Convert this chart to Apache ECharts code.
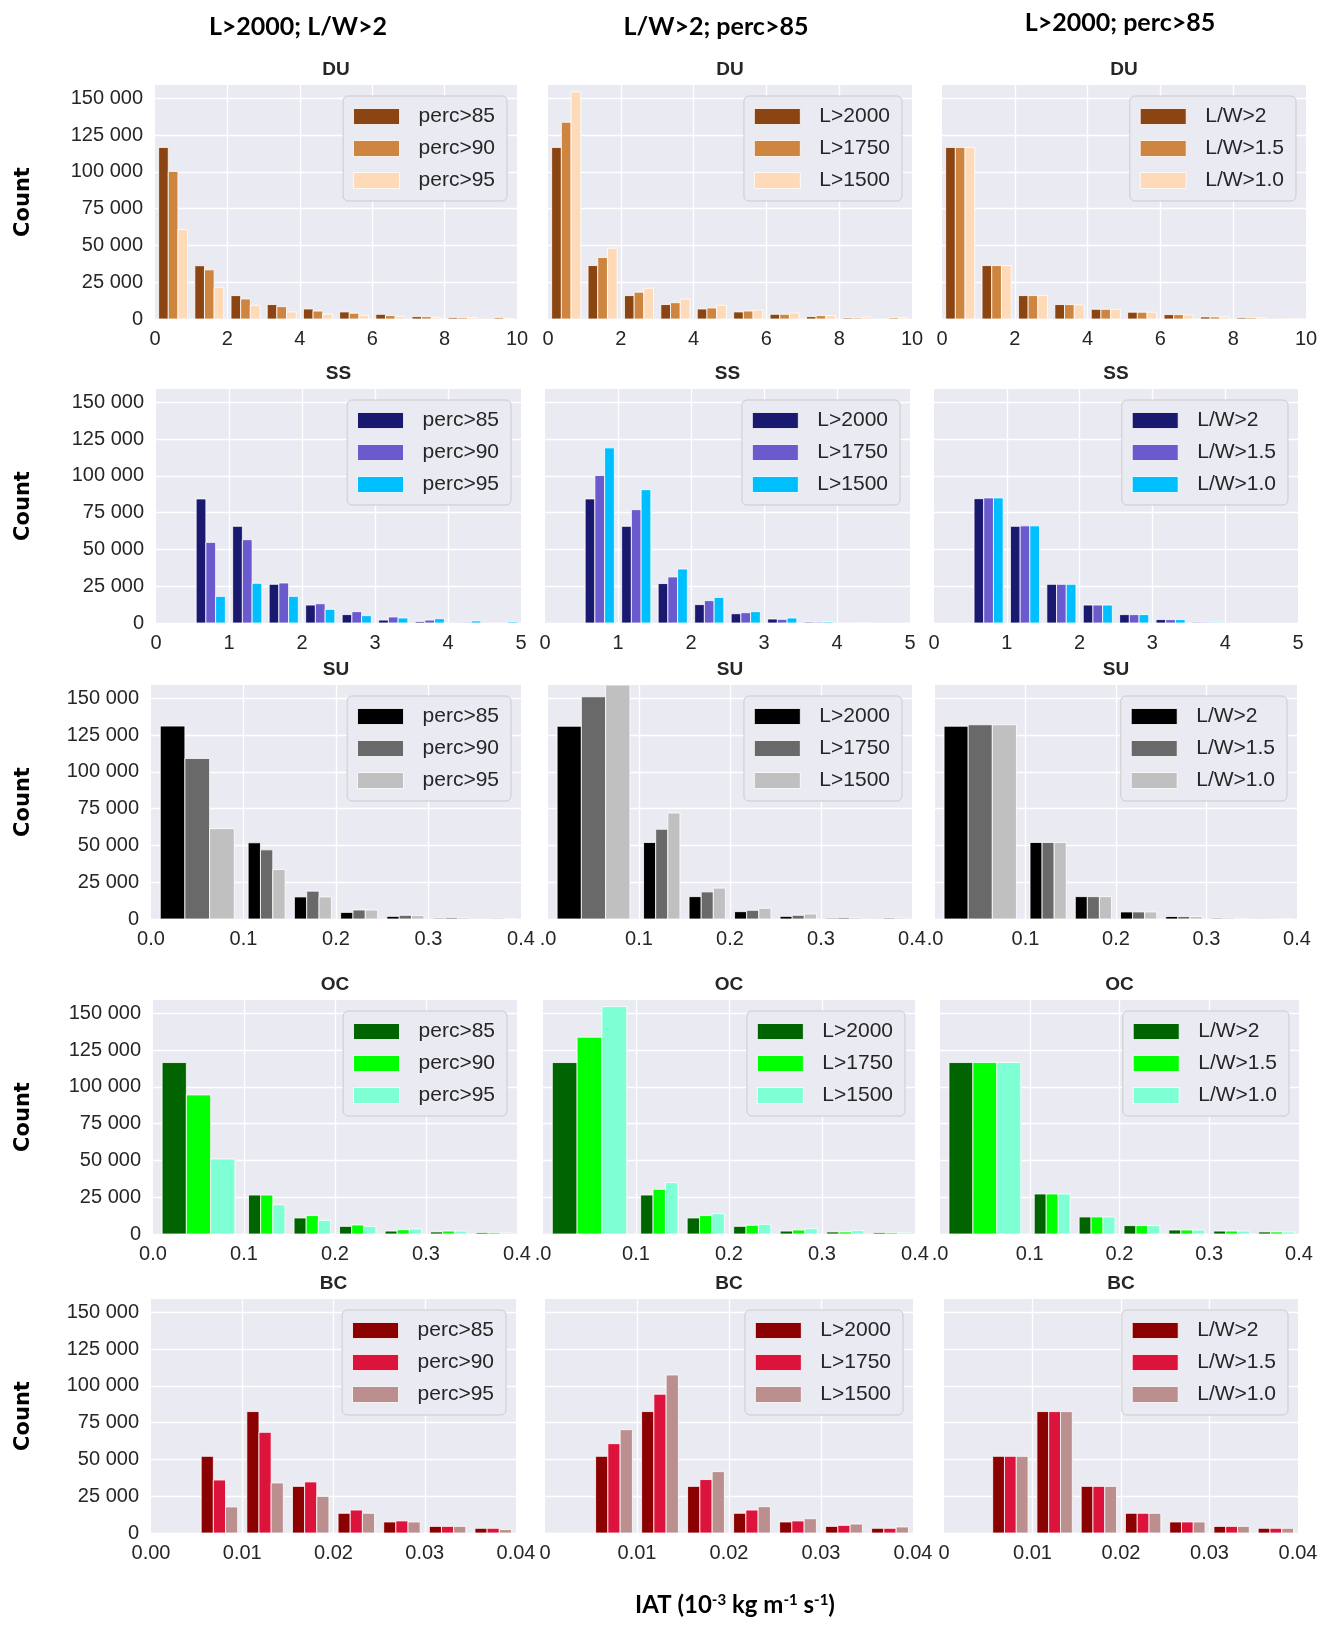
<!DOCTYPE html>
<html><head><meta charset="utf-8">
<script src="https://cdn.jsdelivr.net/npm/echarts@6/dist/echarts.min.js"></script>
<style>html,body{margin:0;padding:0;background:#fff}#chart{width:1334px;height:1628px}</style>
</head><body><div id="chart"></div><script>
// ---------- data ----------
const rowNames = ['DU', 'SS', 'SU', 'OC', 'BC'];
const colHeaders = ['L>2000; L/W>2', 'L/W>2; perc>85', 'L>2000; perc>85'];
const col1Labels = ['perc>85', 'perc>90', 'perc>95'];
const col2Labels = ['L>2000', 'L>1750', 'L>1500'];
const col3Labels = ['L/W>2', 'L/W>1.5', 'L/W>1.0'];

// bin edges
const DU_bins = [0, 1, 2, 3, 4, 5, 6, 7, 8, 9, 10];
const SS_bins = [0, 0.5, 1, 1.5, 2, 2.5, 3, 3.5, 4, 4.5, 5];
const SU_bins = [0, 0.1, 0.15, 0.2, 0.25, 0.3, 0.35, 0.4];
const OC_bins = [0, 0.1, 0.15, 0.2, 0.25, 0.3, 0.35, 0.4];
const BC_bins = [0, 0.005, 0.01, 0.015, 0.02, 0.025, 0.03, 0.035, 0.04];

// DU counts
const DU_perc85 = [116600, 36200, 15900, 9800, 6800, 4800, 3200, 1600, 900, 400];
const DU_perc90 = [100300, 33400, 13600, 8400, 5400, 3900, 2300, 1600, 900, 1100];
const DU_perc95 = [60800, 21600, 9300, 4800, 3200, 2500, 1800, 1100, 1000, 500];
const DU_L2000 = [116600, 36300, 15900, 9800, 6800, 4800, 3200, 1600, 700, 300];
const DU_L1750 = [133700, 41800, 18200, 11100, 7500, 5400, 3200, 2300, 700, 900];
const DU_L1500 = [154300, 48100, 20900, 13600, 9300, 6100, 4100, 2300, 1400, 900];
const DU_LW2 = [116600, 36300, 15900, 9800, 6600, 4600, 3000, 1400, 800, 200];
const DU_LW15 = [116600, 36300, 15900, 9800, 6600, 4600, 3000, 1400, 800, 200];
const DU_LW10 = [116600, 36300, 15900, 9600, 6600, 4600, 2800, 1400, 800, 200];

// SS counts
const SS_perc85 = [0, 84300, 65700, 26300, 12200, 5700, 2000, 900, 200, 100];
const SS_perc90 = [0, 54800, 56600, 27200, 13100, 7700, 4100, 2000, 500, 200];
const SS_perc95 = [0, 18100, 27000, 18100, 9300, 5000, 3400, 2900, 1400, 800];
const SS_L2000 = [0, 84300, 65700, 26800, 12500, 6300, 2700, 600, 100, 0];
const SS_L1750 = [0, 100200, 77000, 31300, 15200, 7000, 2500, 600, 100, 0];
const SS_L1500 = [0, 119000, 90600, 36700, 17400, 7700, 3400, 700, 100, 0];
const SS_LW2 = [0, 84500, 65700, 26300, 12200, 5700, 2300, 500, 0, 0];
const SS_LW15 = [0, 85000, 66000, 26300, 12200, 5700, 2300, 500, 0, 0];
const SS_LW10 = [0, 85000, 66000, 26300, 12200, 5700, 2300, 500, 0, 0];

// SU counts
const SU_perc85 = [131100, 51800, 15000, 4500, 1800, 500, 100];
const SU_perc90 = [109100, 47000, 18900, 6100, 2500, 900, 500];
const SU_perc95 = [61400, 33600, 15000, 6100, 2300, 900, 200];
const SU_L2000 = [131000, 52000, 15200, 5000, 1800, 500, 200];
const SU_L1750 = [151000, 61000, 18400, 5900, 2500, 900, 700];
const SU_L1500 = [163000, 72000, 21000, 7300, 3400, 900, 700];
const SU_LW2 = [131000, 52000, 15200, 4800, 1700, 500, 200];
const SU_LW15 = [132000, 52000, 15200, 4800, 1700, 500, 200];
const SU_LW10 = [132000, 52000, 15200, 4800, 1700, 500, 200];

// OC counts
const OC_perc85 = [116500, 26500, 10900, 5200, 2000, 1400, 900];
const OC_perc90 = [94500, 26500, 12500, 6100, 2900, 2000, 900];
const OC_perc95 = [51000, 19900, 9300, 5200, 3400, 2000, 700];
const OC_L2000 = [116500, 26500, 10900, 5200, 2000, 1400, 900];
const OC_L1750 = [133700, 30400, 12500, 5900, 2700, 1400, 900];
const OC_L1500 = [154500, 34900, 13800, 6600, 3600, 2300, 900];
const OC_LW2 = [116500, 27200, 11600, 5700, 2700, 2000, 1400];
const OC_LW15 = [116500, 27200, 11600, 5700, 2700, 2000, 1400];
const OC_LW10 = [116500, 27200, 11600, 5700, 2700, 2000, 1400];

// BC counts
const BC_perc85 = [0, 52100, 82500, 31700, 13400, 7500, 4500, 3200];
const BC_perc90 = [0, 36000, 68400, 34700, 15600, 8200, 4500, 3200];
const BC_perc95 = [0, 17700, 34000, 24900, 13400, 7500, 4500, 2300];
const BC_L2000 = [0, 52100, 82500, 31700, 13400, 7500, 4500, 3200];
const BC_L1750 = [0, 60700, 94300, 36300, 15600, 8200, 5200, 3200];
const BC_L1500 = [0, 70200, 107400, 41700, 17900, 9700, 6100, 4100];
const BC_LW2 = [0, 52100, 82500, 31700, 13400, 7500, 4500, 3200];
const BC_LW15 = [0, 52100, 82500, 31700, 13400, 7500, 4500, 3200];
const BC_LW10 = [0, 52100, 82500, 31700, 13400, 7500, 4500, 3200];

const yTicks = [0, 25000, 50000, 75000, 100000, 125000, 150000];

// ---------- styling / layout ----------
const palettes = [
  ['#8B4513', '#CD853F', '#FFDAB9'],
  ['#191970', '#6A5ACD', '#00BFFF'],
  ['#000000', '#696969', '#C0C0C0'],
  ['#006400', '#00FF00', '#7FFFD4'],
  ['#8B0000', '#DC143C', '#BC8F8F']
];
const rowBins = [DU_bins, SS_bins, SU_bins, OC_bins, BC_bins];
const rowData = [
  [[DU_perc85, DU_perc90, DU_perc95], [DU_L2000, DU_L1750, DU_L1500], [DU_LW2, DU_LW15, DU_LW10]],
  [[SS_perc85, SS_perc90, SS_perc95], [SS_L2000, SS_L1750, SS_L1500], [SS_LW2, SS_LW15, SS_LW10]],
  [[SU_perc85, SU_perc90, SU_perc95], [SU_L2000, SU_L1750, SU_L1500], [SU_LW2, SU_LW15, SU_LW10]],
  [[OC_perc85, OC_perc90, OC_perc95], [OC_L2000, OC_L1750, OC_L1500], [OC_LW2, OC_LW15, OC_LW10]],
  [[BC_perc85, BC_perc90, BC_perc95], [BC_L2000, BC_L1750, BC_L1500], [BC_LW2, BC_LW15, BC_LW10]]
];
const colLabels = [col1Labels, col2Labels, col3Labels];
const xMax = [10, 5, 0.4, 0.4, 0.04];
const xInt = [2, 1, 0.1, 0.1, 0.01];

const W = 1334;
const panelLeft = [[155, 548, 942], [156, 545, 934], [151, 548, 935], [153, 543, 940], [151, 545, 944]];
const panelRight = [[517, 912, 1306], [521, 910, 1298], [521, 912, 1297], [517, 915, 1299], [516, 913, 1298]];
const rowTop = [85, 389, 685, 1000, 1299];
const plotH = 234;
const YMAX = 159000;
const FONT = "'Liberation Sans', Arial, sans-serif";
const TXT = '#262626';

function xFormatter(r, c) {
  return function (v) {
    if (r === 0 || r === 1) return String(Math.round(v));
    if (r === 2 || r === 3) {
      if (c > 0 && Math.abs(v) < 1e-9) return '.0';
      return v.toFixed(1);
    }
    if (c > 0 && Math.abs(v) < 1e-9) return '0';
    return v.toFixed(2);
  };
}
function yFormatter(v) {
  if (yTicks.indexOf(v) < 0) return '';
  if (v === 0) return '0';
  const s = String(v);
  return s.slice(0, s.length - 3) + ' ' + s.slice(-3);
}
function makeRender(slot, color) {
  return function (params, api) {
    const x0 = api.value(0), x1 = api.value(1), v = api.value(2);
    if (!(v > 0)) return null;
    const w = (x1 - x0) * 0.8 / 3;
    const left = x0 + (x1 - x0) * 0.1 + slot * w;
    const p1 = api.coord([left, v]);
    const p2 = api.coord([left + w, 0]);
    const cs = params.coordSys;
    const rect = echarts.graphic.clipRectByRect(
      { x: p1[0], y: p1[1], width: p2[0] - p1[0], height: p2[1] - p1[1] },
      { x: cs.x, y: cs.y, width: cs.width, height: cs.height });
    if (!rect) return null;
    return { type: 'rect', shape: rect, style: { fill: color, stroke: '#ffffff', lineWidth: 0.8 } };
  };
}

const grids = [], xAxes = [], yAxes = [], series = [], legends = [], graphics = [];

colHeaders.forEach(function (h, c) {
  const cx = [298, 716, 1120][c];
  const cy = [27, 27, 23][c];
  graphics.push({ type: 'text', x: cx, y: cy, style: { text: h, font: "bold 25px Lato, 'Liberation Sans', sans-serif", fill: '#000', textAlign: 'center', textVerticalAlign: 'middle' } });
});

for (let r = 0; r < 5; r++) {
  graphics.push({ type: 'text', x: 24, y: rowTop[r] + plotH / 2, rotation: Math.PI / 2,
    style: { text: 'Count', font: "bold 21px 'DejaVu Sans', sans-serif", fill: '#000', textAlign: 'center', textVerticalAlign: 'middle' } });
  for (let c = 0; c < 3; c++) {
    const gi = r * 3 + c;
    const L = panelLeft[r][c], R = panelRight[r][c];
    grids.push({ left: L, top: rowTop[r], width: R - L, height: plotH,
      show: true, backgroundColor: '#EAEAF2', borderWidth: 0 });
    xAxes.push({ type: 'value', gridIndex: gi, min: 0, max: xMax[r], interval: xInt[r],
      axisLine: { show: false }, axisTick: { show: false },
      splitLine: { show: true, showMinLine: false, showMaxLine: false, lineStyle: { color: '#ffffff', width: 1.3 } },
      axisLabel: { show: true, margin: 10, fontSize: 20, color: TXT, fontFamily: FONT, formatter: xFormatter(r, c), showMinLabel: true, showMaxLabel: true } });
    yAxes.push({ type: 'value', gridIndex: gi, min: 0, max: YMAX, interval: 25000,
      axisLine: { show: false }, axisTick: { show: false },
      splitLine: { show: true, showMaxLine: false, lineStyle: { color: '#ffffff', width: 1.3 } },
      axisLabel: { show: c === 0, margin: 12, fontSize: 20, color: TXT, fontFamily: FONT, formatter: yFormatter } });
    graphics.push({ type: 'text', x: (L + R) / 2, y: rowTop[r] - 15,
      style: { text: rowNames[r], font: "bold 19px 'Liberation Sans', Arial, sans-serif", fill: TXT, textAlign: 'center', textVerticalAlign: 'middle' } });

    const bins = rowBins[r];
    const legendData = [];
    for (let s = 0; s < 3; s++) {
      const vals = rowData[r][c][s];
      const data = vals.map(function (v, i) { return [bins[i], bins[i + 1], v]; });
      const name = rowNames[r] + c + '|' + colLabels[c][s];
      const color = palettes[r][s];
      series.push({ type: 'custom', name: name, xAxisIndex: gi, yAxisIndex: gi,
        encode: { x: [0, 1], y: 2 }, itemStyle: { color: color },
        renderItem: makeRender(s, color), data: data, silent: true });
      legendData.push({ name: name, icon: 'rect', itemStyle: { color: color, borderColor: '#ffffff', borderWidth: 0.8 } });
    }
    legends.push({ data: legendData, orient: 'vertical', right: W - R + 10, top: rowTop[r] + 11,
      itemWidth: 46, itemHeight: 16, itemGap: 11, selectedMode: false,
      backgroundColor: '#EAEAF2', borderColor: '#CCCCCC', borderWidth: 1, borderRadius: 5,
      padding: [10, 12, 10, 10],
      formatter: function (n) { return n.split('|')[1]; },
      textStyle: { fontSize: 21, color: TXT, fontFamily: FONT, padding: [0, 0, 0, 14] } });
  }
}

graphics.push({ type: 'text', x: 735, y: 1605,
  style: { text: 'IAT (10{sup|-3} kg m{sup|-1} s{sup|-1})', font: "bold 24px Lato, 'Liberation Sans', sans-serif", fill: '#000',
    textAlign: 'center', textVerticalAlign: 'middle',
    rich: { sup: { fontSize: 15, fontWeight: 'bold', fontFamily: "Lato, 'Liberation Sans', sans-serif", verticalAlign: 'top', fill: '#000' } } } });

const chart = echarts.init(document.getElementById('chart'), null, { renderer: 'canvas' });
chart.setOption({
  animation: false,
  textStyle: { fontFamily: FONT },
  grid: grids, xAxis: xAxes, yAxis: yAxes, series: series, legend: legends,
  graphic: graphics
});
</script></body></html>
